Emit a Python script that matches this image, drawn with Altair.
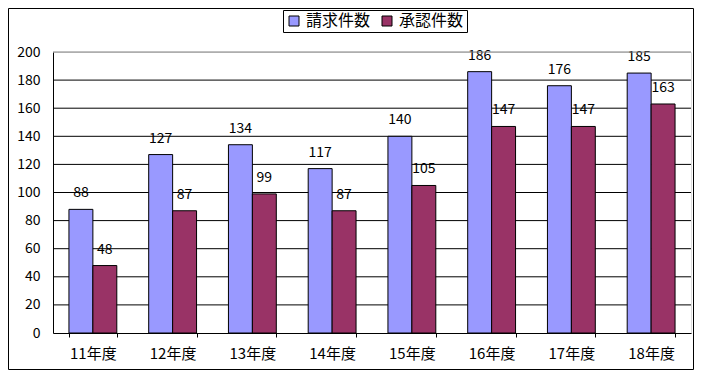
import altair as alt
import pandas as pd

years = ["11年度", "12年度", "13年度", "14年度", "15年度", "16年度", "17年度", "18年度"]
series = ["請求件数", "承認件数"]
requests = [88, 127, 134, 117, 140, 186, 176, 185]
approvals = [48, 87, 99, 87, 105, 147, 147, 163]
y_ticks = [0, 20, 40, 60, 80, 100, 120, 140, 160, 180, 200]
colors = ["#9999FF", "#993366"]

rows = []
for i, yr in enumerate(years):
    rows.append({"year": yr, "series": series[0], "value": requests[i]})
    rows.append({"year": yr, "series": series[1], "value": approvals[i]})
df = pd.DataFrame(rows)

FONT = "Noto Sans CJK JP"
W, H = 638, 281

x_enc = alt.X("year:N", sort=years, title=None,
              scale=alt.Scale(paddingInner=0.4, paddingOuter=0.2),
              axis=alt.Axis(labelAngle=0, labelFontSize=15, labelColor="black",
                            labelPadding=9, tickBand="extent", tickSize=4,
                            tickColor="black", domainColor="black", labelFont=FONT,
                            grid=False))
xo_enc = alt.XOffset("series:N", sort=series,
                     scale=alt.Scale(paddingInner=0, paddingOuter=0))
y_scale = alt.Scale(domain=[0, 200], nice=False)
y_enc = alt.Y("value:Q", title=None, scale=y_scale,
              axis=alt.Axis(values=y_ticks, labelFontSize=14, labelColor="black",
                            labelPadding=13, ticks=False, domainColor="black",
                            labelOverlap=False, grid=False, labelFont=FONT))

grid_df = pd.DataFrame({"value": y_ticks[1:-1]})
grid = alt.Chart(grid_df).mark_rule(color="black", strokeWidth=1).encode(
    y=y_enc,
)

bars = alt.Chart(df).mark_bar(stroke="black", strokeWidth=1).encode(
    x=x_enc, xOffset=xo_enc, y=y_enc,
    color=alt.Color("series:N", sort=series,
                    scale=alt.Scale(domain=series, range=colors),
                    legend=alt.Legend(title=None, orient="none", legendX=230, legendY=-42,
                                      direction="horizontal", symbolType="square",
                                      symbolSize=100, symbolStrokeColor="black",
                                      symbolStrokeWidth=1, labelFontSize=16,
                                      labelFont=FONT, labelColor="black",
                                      strokeColor="black", padding=3,
                                      fillColor="white", columnPadding=8,
                                      symbolOffset=0, labelOffset=4)),
)

labels = alt.Chart(df).mark_text(baseline="bottom", dy=-9, fontSize=14,
                                 font=FONT, color="black").encode(
    x=x_enc, xOffset=xo_enc, y=y_enc, text="value:Q",
)

border = alt.Chart(pd.DataFrame({"a": [0]})).mark_rect(
    fill=None, stroke="black", strokeWidth=1).encode(
    x=alt.value(-44.5), x2=alt.value(W + 2.5),
    y=alt.value(-43.5), y2=alt.value(H + 36.5),
)

top_line = alt.Chart(pd.DataFrame({"a": [0]})).mark_rule(
    color="#808080", strokeWidth=1).encode(
    x=alt.value(0), x2=alt.value(W), y=alt.value(0),
)

chart = alt.layer(grid, bars, labels, top_line, border).properties(
    width=W, height=H,
    autosize=alt.AutoSizeParams(type="none"),
    padding={"left": 45, "top": 44, "right": 3, "bottom": 37},
).configure_view(stroke="#808080", strokeWidth=1).configure(background="white")

chart.save("out.html", embed_options={"renderer": "svg", "actions": False})
